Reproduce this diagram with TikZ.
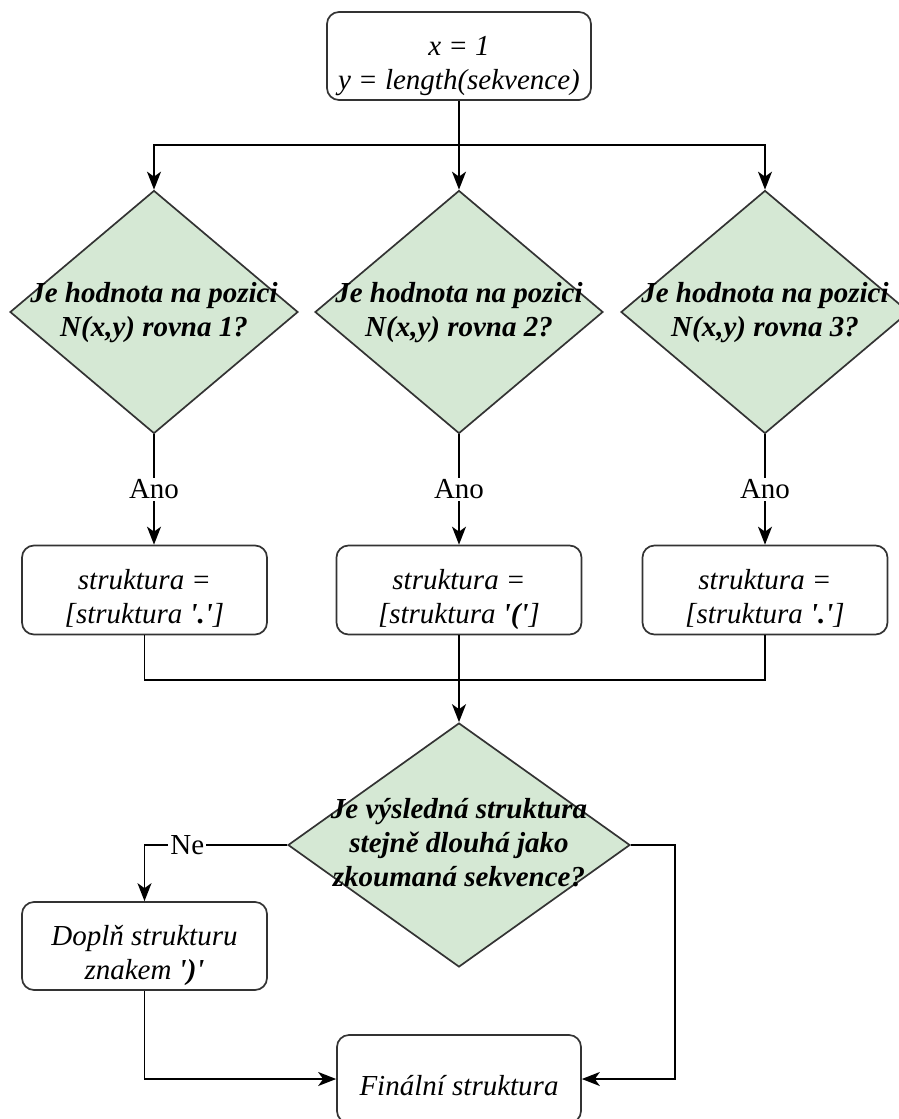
\documentclass[tikz,border=0pt]{standalone}
\usepackage{fontspec}
\setmainfont{Liberation Serif}
\usetikzlibrary{shapes.geometric, arrows.meta}

\definecolor{qgreen}{HTML}{D5E8D4}
\newcommand{\qtext}[1]{\makebox[0pt]{\smash{\raisebox{-0.25em}{\begin{tabular}{@{}c@{}}#1\end{tabular}}}}}
\newcommand{\sq}{\textquotesingle}
\newcommand{\tstrut}{\rule{0pt}{40pt}}
\newcommand{\dstrut}{\rule[-8pt]{0pt}{8pt}}

\begin{document}
\begin{tikzpicture}[x=1pt, y=-1pt, line width=1.7pt,
    box/.style={draw=black!80, fill=white, rounded corners=12pt, minimum width=245pt, minimum height=89pt,
        inner ysep=0pt, align=center, font=\fontsize{29}{34}\selectfont\itshape},
    qbox/.style={diamond, draw=black!80, fill=qgreen, inner sep=0pt, minimum width=288pt, minimum height=243pt,
        font=\fontsize{29}{34}\selectfont\bfseries\itshape},
    lbl/.style={fill=white, inner sep=2pt, font=\fontsize{29}{34}\selectfont},
    flow/.style={-{Stealth[length=18pt, width=14pt, inset=5pt]}}]
    \useasboundingbox (0,0) rectangle (899,1119);

    % Start
    \node[box, minimum width=264pt, minimum height=88pt] (start) at (459,56)
        {\tstrut x = 1\\y = length(sekvence)\dstrut};

    % Questions
    \node[qbox] (q1) at (154,312) {\qtext{Je hodnota na pozici\\N(x,y) rovna 1?}};
    \node[qbox] (q2) at (459,312) {\qtext{Je hodnota na pozici\\N(x,y) rovna 2?}};
    \node[qbox] (q3) at (765,312) {\qtext{Je hodnota na pozici\\N(x,y) rovna 3?}};

    % Assignments
    \node[box] (s1) at (144.5,590) {\tstrut struktura =\\{}[struktura \textbf{\sq.\sq}]\dstrut};
    \node[box] (s2) at (459,590) {\tstrut struktura =\\{}[struktura \textbf{\sq(\sq}]\dstrut};
    \node[box] (s3) at (765,590) {\tstrut struktura =\\{}[struktura \textbf{\sq.\sq}]\dstrut};

    % Check of the length
    \node[qbox, minimum width=342pt, minimum height=244pt] (q4) at (459,845)
        {\qtext{Je výsledná struktura\\stejně dlouhá jako\\zkoumaná sekvence?}};
    \node[box, minimum height=88pt] (fix) at (144.5,946) {\tstrut Doplň strukturu\\znakem \textbf{\sq)\sq}\dstrut};
    \node[box, minimum width=244pt, minimum height=88pt] (final) at (459,1079) {\tstrut Finální struktura\dstrut};

    \coordinate (split) at (459,145);
    \coordinate (join) at (459,680);
    \coordinate (turn) at (675,845);

    % Branches
    \draw[flow] (start.south) -- (q2.north);
    \draw[flow] (split) -| (q1.north);
    \draw[flow] (split) -| (q3.north);
    \foreach \i in {1,2,3}
        \draw[flow] (q\i.south) -- node[lbl] {Ano} (q\i.south |- s\i.north);

    % Merge
    \draw (s1.south) |- (join) -| (s3.south);
    \draw (s2.south) -- (join);
    \draw[flow] (join) -- (q4.north);

    % Result
    \draw[flow] (q4.west) -| node[lbl, pos=0.35] {Ne} (fix.north);
    \draw[flow] (fix.south) |- (final.west);
    \draw[flow] (q4.east) -- (turn) |- (final.east);
\end{tikzpicture}
\end{document}
